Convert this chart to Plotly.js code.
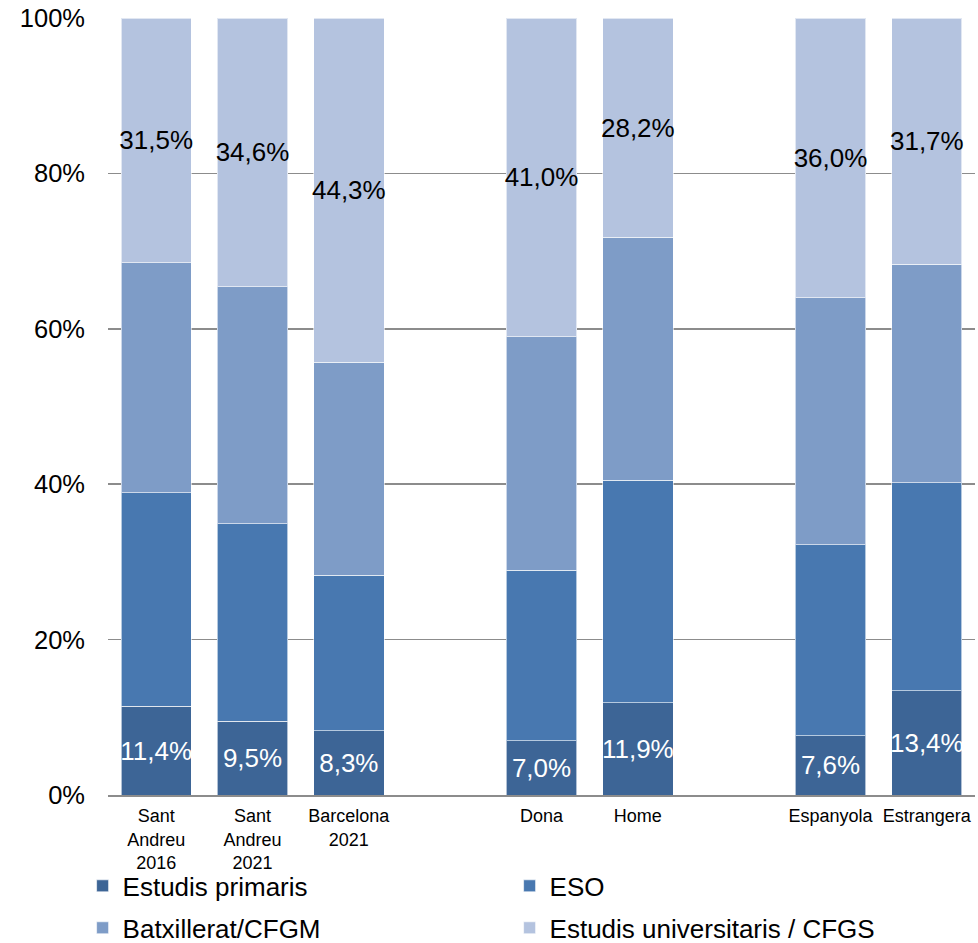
<!DOCTYPE html>
<html>
<head>
<meta charset="utf-8">
<script src="https://cdn.plot.ly/plotly-3.0.1.min.js"></script>
<style>html,body{margin:0;padding:0;background:#fff;}#chart{width:978px;height:943px;}</style>
</head>
<body>
<div id="chart"></div>
<script>
// Data
const positions = [0, 1, 2, 4, 5, 7, 8];
const tickLabels = ["Sant<br>Andreu<br>2016", "Sant<br>Andreu<br>2021", "Barcelona<br>2021", "Dona", "Home", "Espanyola", "Estrangera"];
const yTickVals = [0, 20, 40, 60, 80, 100];
const yTickText = ["0%", "20%", "40%", "60%", "80%", "100%"];
const seriesNames = ["Estudis primaris", "ESO", "Batxillerat/CFGM", "Estudis universitaris / CFGS"];
const primaris = [11.4, 9.5, 8.3, 7.0, 11.9, 7.6, 13.4];
const eso = [27.5, 25.4, 20.0, 21.9, 28.6, 24.6, 26.8];
const batx = [29.6, 30.5, 27.4, 30.1, 31.3, 31.8, 28.1];
const univ = [31.5, 34.6, 44.3, 41.0, 28.2, 36.0, 31.7];
const colors = ["#3d6596", "#4878b0", "#7e9cc7", "#b4c3df"];

const FONT = "Liberation Sans, Arial, sans-serif";

function trace(i, vals, showLabel, labelColor, legendId) {
  const t = {
    type: "bar",
    name: seriesNames[i],
    x: positions,
    y: vals,
    marker: { color: colors[i], line: { color: "rgba(255,255,255,0.6)", width: 1 } },
    legend: legendId,
    hoverinfo: "skip"
  };
  if (showLabel) {
    t.texttemplate = "%{y:.1f}%";
    t.textposition = "inside";
    t.insidetextanchor = "middle";
    t.textangle = 0;
    t.constraintext = "none";
    t.insidetextfont = { family: FONT, size: 26, color: labelColor };
  } else {
    t.textposition = "none";
  }
  return t;
}

const data = [
  trace(0, primaris, true, "#ffffff", "legend"),
  trace(1, eso, false, null, "legend"),
  trace(2, batx, false, null, "legend2"),
  trace(3, univ, true, "#000000", "legend2")
];

const legendCommon = {
  orientation: "h",
  xanchor: "left",
  yanchor: "middle",
  entrywidth: 382,
  entrywidthmode: "pixels",
  itemwidth: 30,
  font: { family: FONT, size: 26, color: "#000" },
  bgcolor: "rgba(0,0,0,0)",
  traceorder: "normal"
};

const layout = {
  width: 978,
  height: 943,
  margin: { l: 108, r: 3, t: 18, b: 148, autoexpand: false },
  paper_bgcolor: "#ffffff",
  plot_bgcolor: "rgba(0,0,0,0)",
  barmode: "stack",
  bargap: 0.27,
  separators: ",.",
  font: { family: FONT, color: "#000" },
  xaxis: {
    range: [-0.5, 8.5],
    tickvals: positions,
    ticktext: tickLabels,
    showgrid: false,
    zeroline: false,
    showline: true,
    linecolor: "#8c8c8c",
    linewidth: 1.5,
    ticks: "",
    ticklabelstandoff: 4,
    tickfont: { family: FONT, size: 18, color: "#000" },
    automargin: false,
    fixedrange: true
  },
  yaxis: {
    range: [0, 100],
    tickvals: yTickVals,
    ticktext: yTickText,
    showgrid: true,
    gridcolor: "#8c8c8c",
    gridwidth: 1.5,
    zeroline: false,
    ticks: "",
    ticklabelstandoff: 22,
    tickfont: { family: FONT, size: 25.5, color: "#000" },
    automargin: false,
    fixedrange: true
  },
  legend: Object.assign({}, legendCommon, { x: -0.0293, y: -0.117 }),
  legend2: Object.assign({}, legendCommon, { x: -0.0293, y: -0.171 }),
  showlegend: true
};

Plotly.newPlot("chart", data, layout, { displayModeBar: false, staticPlot: true });
</script>
</body>
</html>
